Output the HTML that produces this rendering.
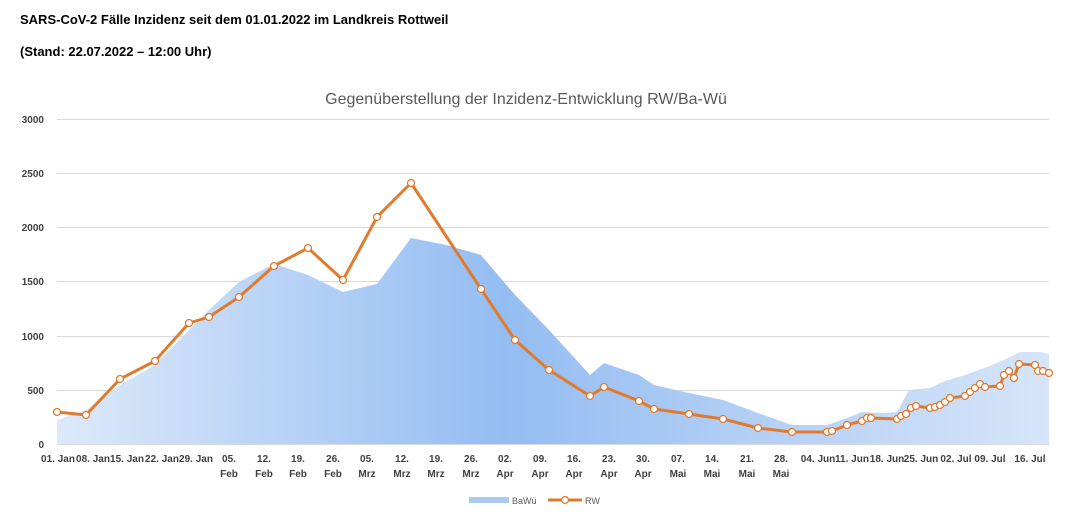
<!DOCTYPE html><html><head><meta charset="utf-8"><style>
body{margin:0;background:#fff;width:1072px;height:517px;overflow:hidden;font-family:"Liberation Sans",sans-serif}
</style></head><body>
<svg width="1072" height="517" xmlns="http://www.w3.org/2000/svg" font-family="Liberation Sans, sans-serif">
<text x="20" y="24" font-size="13" font-weight="bold">SARS-CoV-2 Fälle Inzidenz seit dem 01.01.2022 im Landkreis Rottweil</text>
<text x="20" y="56" font-size="13" font-weight="bold">(Stand: 22.07.2022 – 12:00 Uhr)</text>
<text x="526" y="104" font-size="16" fill="#595959" text-anchor="middle">Gegenüberstellung der Inzidenz-Entwicklung RW/Ba-Wü</text>
<g stroke="#d9d9d9" stroke-width="1">
<line x1="57" x2="1049" y1="119.5" y2="119.5"/><line x1="57" x2="1049" y1="173.5" y2="173.5"/><line x1="57" x2="1049" y1="227.5" y2="227.5"/><line x1="57" x2="1049" y1="281.5" y2="281.5"/><line x1="57" x2="1049" y1="336.5" y2="336.5"/><line x1="57" x2="1049" y1="390.5" y2="390.5"/><line x1="57" x2="1049" y1="444.5" y2="444.5"/>
</g>
<g font-size="10" font-weight="bold" fill="#404040" text-anchor="end">
<text x="44" y="123">3000</text><text x="44" y="177">2500</text><text x="44" y="231">2000</text><text x="44" y="285">1500</text><text x="44" y="340">1000</text><text x="44" y="394">500</text><text x="44" y="448">0</text>
</g>
<defs><linearGradient id="g" x1="0" x2="1" y1="0" y2="0">
<stop offset="0" stop-color="#dde9fa"/><stop offset="0.45" stop-color="#94bdf2"/><stop offset="0.62" stop-color="#a9c9f4"/><stop offset="1" stop-color="#d6e5f9"/></linearGradient></defs>
<polygon fill="url(#g)" points="57,420 86,410 120,385 155,365 189,330 209,310 239,282 274,264 308,275 343,292 377,284 411,238 446,245 481,255 515,295 549,330 590,375 604,363 639,375 654,385 689,393 723,400 758,413 792,425 827,425 847,418 862,412 883,413 897,412 909,390 930,388 945,381 965,375 990,366 1010,357 1020,352 1040,352 1049,354 1049,444 57,444"/>
<polyline fill="none" stroke="#e07b2e" stroke-width="3" stroke-linejoin="round" points="57,412 86,415 120,379 155,361 189,323 209,317 239,297 274,266 308,248 343,280 377,217 411,183 481,289 515,340 549,370 590,396 604,387 639,401 654,409 689,414 723,419 758,428 792,432 827,432 832,431 847,425 862,421 867,418 871,418 897,419 901,416 906,414 911,408 916,406 930,408 935,407 940,405 945,402 950,398 965,396 970,392 975,388 980,384 985,387 1000,386 1004,375 1009,371 1014,378 1019,364 1035,365 1038,371 1043,371 1049,373"/>
<g fill="#fff" stroke="#e07b2e" stroke-width="1.3">
<circle cx="57" cy="412" r="3.5"/><circle cx="86" cy="415" r="3.5"/><circle cx="120" cy="379" r="3.5"/><circle cx="155" cy="361" r="3.5"/><circle cx="189" cy="323" r="3.5"/><circle cx="209" cy="317" r="3.5"/><circle cx="239" cy="297" r="3.5"/><circle cx="274" cy="266" r="3.5"/><circle cx="308" cy="248" r="3.5"/><circle cx="343" cy="280" r="3.5"/><circle cx="377" cy="217" r="3.5"/><circle cx="411" cy="183" r="3.5"/><circle cx="481" cy="289" r="3.5"/><circle cx="515" cy="340" r="3.5"/><circle cx="549" cy="370" r="3.5"/><circle cx="590" cy="396" r="3.5"/><circle cx="604" cy="387" r="3.5"/><circle cx="639" cy="401" r="3.5"/><circle cx="654" cy="409" r="3.5"/><circle cx="689" cy="414" r="3.5"/><circle cx="723" cy="419" r="3.5"/><circle cx="758" cy="428" r="3.5"/><circle cx="792" cy="432" r="3.5"/><circle cx="827" cy="432" r="3.5"/><circle cx="832" cy="431" r="3.5"/><circle cx="847" cy="425" r="3.5"/><circle cx="862" cy="421" r="3.5"/><circle cx="867" cy="418" r="3.5"/><circle cx="871" cy="418" r="3.5"/><circle cx="897" cy="419" r="3.5"/><circle cx="901" cy="416" r="3.5"/><circle cx="906" cy="414" r="3.5"/><circle cx="911" cy="408" r="3.5"/><circle cx="916" cy="406" r="3.5"/><circle cx="930" cy="408" r="3.5"/><circle cx="935" cy="407" r="3.5"/><circle cx="940" cy="405" r="3.5"/><circle cx="945" cy="402" r="3.5"/><circle cx="950" cy="398" r="3.5"/><circle cx="965" cy="396" r="3.5"/><circle cx="970" cy="392" r="3.5"/><circle cx="975" cy="388" r="3.5"/><circle cx="980" cy="384" r="3.5"/><circle cx="985" cy="387" r="3.5"/><circle cx="1000" cy="386" r="3.5"/><circle cx="1004" cy="375" r="3.5"/><circle cx="1009" cy="371" r="3.5"/><circle cx="1014" cy="378" r="3.5"/><circle cx="1019" cy="364" r="3.5"/><circle cx="1035" cy="365" r="3.5"/><circle cx="1038" cy="371" r="3.5"/><circle cx="1043" cy="371" r="3.5"/><circle cx="1049" cy="373" r="3.5"/>
</g>
<g font-size="10" font-weight="bold" fill="#404040" text-anchor="middle">
<text x="58" y="462">01. Jan</text><text x="93" y="462">08. Jan</text><text x="127" y="462">15. Jan</text><text x="162" y="462">22. Jan</text><text x="196" y="462">29. Jan</text>
<text x="229" y="462">05.</text><text x="229" y="477">Feb</text>
<text x="264" y="462">12.</text><text x="264" y="477">Feb</text>
<text x="298" y="462">19.</text><text x="298" y="477">Feb</text>
<text x="333" y="462">26.</text><text x="333" y="477">Feb</text>
<text x="367" y="462">05.</text><text x="367" y="477">Mrz</text>
<text x="402" y="462">12.</text><text x="402" y="477">Mrz</text>
<text x="436" y="462">19.</text><text x="436" y="477">Mrz</text>
<text x="471" y="462">26.</text><text x="471" y="477">Mrz</text>
<text x="505" y="462">02.</text><text x="505" y="477">Apr</text>
<text x="540" y="462">09.</text><text x="540" y="477">Apr</text>
<text x="574" y="462">16.</text><text x="574" y="477">Apr</text>
<text x="609" y="462">23.</text><text x="609" y="477">Apr</text>
<text x="643" y="462">30.</text><text x="643" y="477">Apr</text>
<text x="678" y="462">07.</text><text x="678" y="477">Mai</text>
<text x="712" y="462">14.</text><text x="712" y="477">Mai</text>
<text x="747" y="462">21.</text><text x="747" y="477">Mai</text>
<text x="781" y="462">28.</text><text x="781" y="477">Mai</text>
<text x="818" y="462">04. Jun</text><text x="852" y="462">11. Jun</text><text x="887" y="462">18. Jun</text><text x="921" y="462">25. Jun</text><text x="956" y="462">02. Jul</text><text x="990" y="462">09. Jul</text><text x="1030" y="462">16. Jul</text>
</g>
<rect x="469" y="497" width="40" height="6" fill="#a9c9f4"/>
<text x="512" y="504" font-size="9" fill="#595959">BaWü</text>
<line x1="548" x2="582" y1="500" y2="500" stroke="#e07b2e" stroke-width="3"/>
<circle cx="565" cy="500" r="3.5" fill="#fff" stroke="#e07b2e" stroke-width="1.3"/>
<text x="585" y="504" font-size="9" fill="#595959">RW</text>
</svg>
</body></html>
